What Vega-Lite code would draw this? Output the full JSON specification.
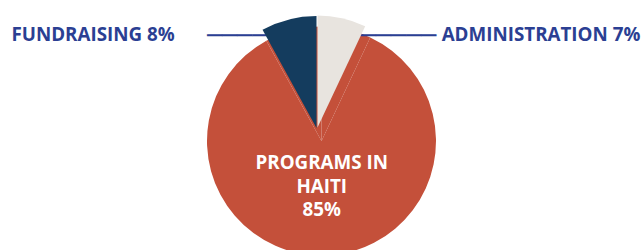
{
  "$schema": "https://vega.github.io/schema/vega-lite/v6.json",
  "width": 642,
  "height": 250,
  "autosize": "none",
  "padding": 0,
  "background": "white",
  "config": {"view": {"stroke": null}, "font": "Open Sans"},
  "data": {
    "values": [
      {"idx": 1, "category": "Administration", "pct": 7, "label": "ADMINISTRATION 7%"},
      {"idx": 2, "category": "Programs in Haiti", "pct": 85, "label": "PROGRAMS IN\nHAITI\n85%"},
      {"idx": 3, "category": "Fundraising", "pct": 8, "label": "FUNDRAISING 8%"}
    ]
  },
  "encoding": {
    "theta": {"field": "pct", "type": "quantitative", "stack": true},
    "order": {"field": "idx", "type": "quantitative"}
  },
  "layer": [
    {
      "mark": {"type": "arc", "radius": 114.5, "xOffset": 0.5, "yOffset": 16, "fill": "#c4503a"}
    },
    {
      "mark": {"type": "text", "text": "────", "font": "DejaVu Sans", "fontSize": 25, "align": "left", "baseline": "alphabetic", "color": "#2b3f93", "radius": 90, "dx": -91.6, "dy": 6.5},
      "encoding": {"opacity": {"condition": {"test": "datum.category === 'Fundraising'", "value": 1}, "value": 0}}
    },
    {
      "mark": {"type": "text", "text": "─────", "font": "DejaVu Sans", "fontSize": 25, "align": "right", "baseline": "alphabetic", "color": "#2b3f93", "radius": 90, "dx": 95.4, "dy": 7.1},
      "encoding": {"opacity": {"condition": {"test": "datum.category === 'Administration'", "value": 1}, "value": 0}}
    },
    {
      "mark": {"type": "arc", "radius": 112, "xOffset": -4.5, "yOffset": 3},
      "encoding": {
        "color": {"field": "category", "type": "nominal", "legend": null,
          "scale": {"domain": ["Administration", "Programs in Haiti", "Fundraising"], "range": ["#e8e4df", "#c4503a", "#143c5e"]}},
        "opacity": {"condition": {"test": "datum.category === 'Fundraising'", "value": 1}, "value": 0}
      }
    },
    {
      "mark": {"type": "arc", "radius": 112, "xOffset": -3.5, "yOffset": 2.5},
      "encoding": {
        "color": {"field": "category", "type": "nominal", "legend": null,
          "scale": {"domain": ["Administration", "Programs in Haiti", "Fundraising"], "range": ["#e8e4df", "#c4503a", "#143c5e"]}},
        "opacity": {"condition": {"test": "datum.category === 'Administration'", "value": 1}, "value": 0}
      }
    },
    {
      "mark": {"type": "text", "font": "Open Sans", "fontWeight": "bold", "fontSize": 18.8, "align": "right", "baseline": "alphabetic", "color": "#2b3f93", "radius": 90, "dx": -124, "dy": 3.2},
      "encoding": {
        "text": {"field": "label", "type": "nominal"},
        "opacity": {"condition": {"test": "datum.category === 'Fundraising'", "value": 1}, "value": 0}
      }
    },
    {
      "mark": {"type": "text", "font": "Open Sans", "fontWeight": "bold", "fontSize": 18.8, "align": "left", "baseline": "alphabetic", "color": "#2b3f93", "radius": 90, "dx": 101, "dy": 3.5},
      "encoding": {
        "text": {"field": "label", "type": "nominal"},
        "opacity": {"condition": {"test": "datum.category === 'Administration'", "value": 1}, "value": 0}
      }
    },
    {
      "mark": {"type": "text", "font": "Open Sans", "fontWeight": "bold", "fontSize": 18.8, "align": "center", "baseline": "alphabetic", "lineBreak": "\n", "lineHeight": 23.5, "color": "white", "radius": 44.3, "dx": -0.7},
      "encoding": {
        "text": {"field": "label", "type": "nominal"},
        "opacity": {"condition": {"test": "datum.category === 'Programs in Haiti'", "value": 1}, "value": 0}
      }
    }
  ]
}
